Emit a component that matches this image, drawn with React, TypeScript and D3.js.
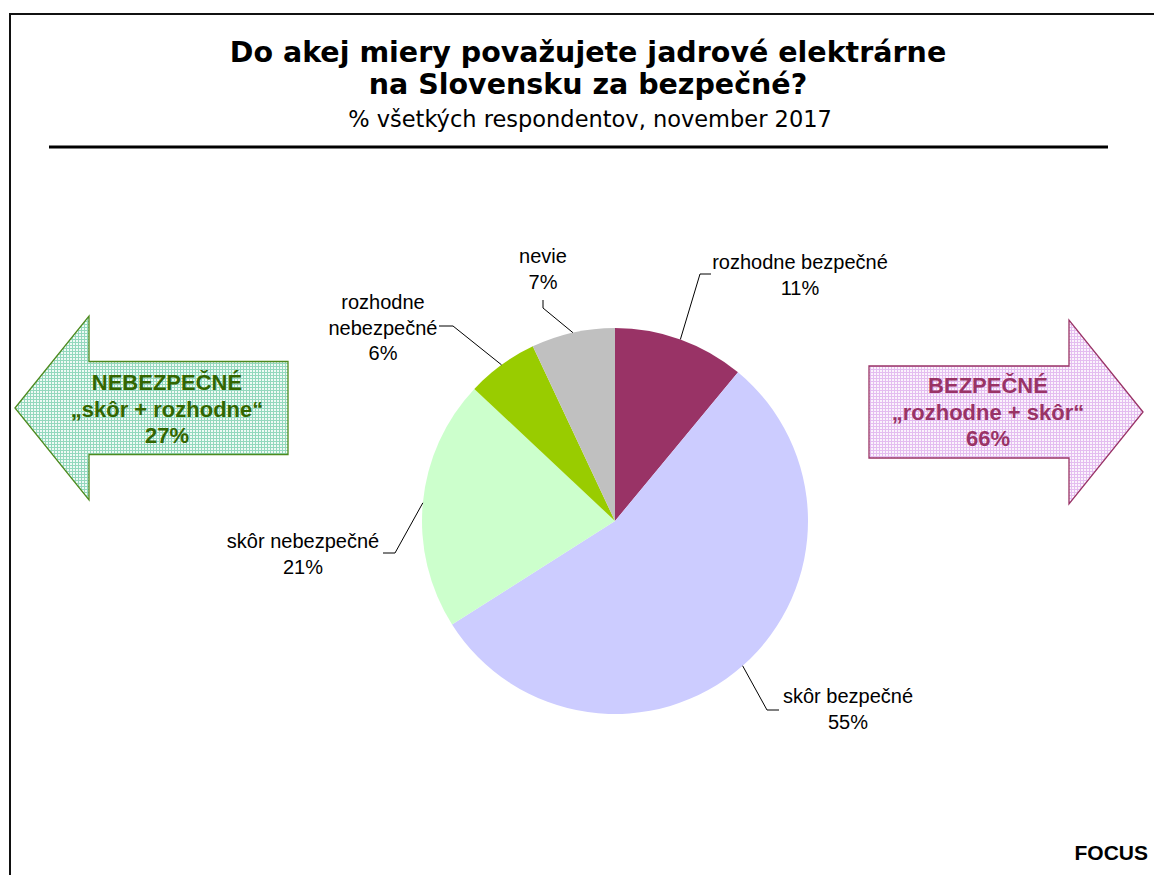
import { useRef, useEffect } from 'react';
import * as d3 from 'd3';

const categories = ['rozhodne bezpečné', 'skôr bezpečné', 'skôr nebezpečné', 'rozhodne nebezpečné', 'nevie'];
const shares = [11, 55, 21, 6, 7];
const colors = ['#993366', '#CCCCFF', '#CCFFCC', '#99CC00', '#C0C0C0'];
// label layout: text lines, text centre x, first baseline, leader elbow and end
const labelLines = [
  ['rozhodne bezpečné', '11%'],
  ['skôr bezpečné', '55%'],
  ['skôr nebezpečné', '21%'],
  ['rozhodne', 'nebezpečné', '6%'],
  ['nevie', '7%'],
];
const labelPos = [
  { x: 800, y: 269, elbow: [700, 274], end: [711, 274] },
  { x: 848, y: 703, elbow: [767, 710], end: [779, 710] },
  { x: 303, y: 548, elbow: [395, 553], end: [383, 553] },
  { x: 383, y: 309, elbow: [453, 326], end: [439, 326] },
  { x: 543, y: 263, elbow: [543, 308], end: [543, 300] },
];

const title = ['Do akej miery považujete jadrové elektrárne', 'na Slovensku za bezpečné?'];
const subtitle = '% všetkých respondentov, november 2017';
const leftArrowText = ['NEBEZPEČNÉ', '„skôr + rozhodne“', '27%'];
const rightArrowText = ['BEZPEČNÉ', '„rozhodne + skôr“', '66%'];

export default function App() {
  const ref = useRef<SVGSVGElement>(null);

  useEffect(() => {
    const svg = d3.select(ref.current);
    svg.selectAll('*').remove();

    const defs = svg.append('defs');
    const pat = (id: string, bg: string, line: string) => {
      const p = defs
        .append('pattern')
        .attr('id', id)
        .attr('width', 3)
        .attr('height', 3)
        .attr('patternUnits', 'userSpaceOnUse');
      p.append('rect').attr('width', 3).attr('height', 3).attr('fill', bg);
      p.append('rect').attr('width', 3).attr('height', 1).attr('fill', line);
      p.append('rect').attr('width', 1).attr('height', 3).attr('fill', line);
    };
    pat('gridGreen', '#effaf5', '#93d8bd');
    pat('gridPink', '#fbf3fc', '#e4bdf0');

    // frame
    svg
      .append('rect')
      .attr('x', 10)
      .attr('y', 14)
      .attr('width', 1200)
      .attr('height', 900)
      .attr('fill', 'white')
      .attr('stroke', '#111')
      .attr('stroke-width', 2);

    const t = svg
      .append('text')
      .attr('text-anchor', 'middle')
      .attr('font-family', 'DejaVu Sans')
      .attr('font-weight', 'bold')
      .attr('font-size', 28.5)
      .attr('fill', '#000');
    title.forEach((s, i) => t.append('tspan').attr('x', 588).attr('y', 62 + i * 32).text(s));
    svg
      .append('text')
      .attr('x', 590)
      .attr('y', 127)
      .attr('text-anchor', 'middle')
      .attr('font-family', 'DejaVu Sans')
      .attr('font-size', 22.5)
      .text(subtitle);
    svg
      .append('line')
      .attr('x1', 49)
      .attr('x2', 1108)
      .attr('y1', 147)
      .attr('y2', 147)
      .attr('stroke', '#000')
      .attr('stroke-width', 3);

    // arrows
    const arrow = (tipX: number, headX: number, bodyX: number, cy: number, headH: number, bodyH: number) =>
      [
        [tipX, cy],
        [headX, cy - headH / 2],
        [headX, cy - bodyH / 2],
        [bodyX, cy - bodyH / 2],
        [bodyX, cy + bodyH / 2],
        [headX, cy + bodyH / 2],
        [headX, cy + headH / 2],
      ] as [number, number][];
    const line = d3.line();
    svg
      .append('path')
      .attr('d', line(arrow(15, 89, 288, 408, 184, 93)) + 'Z')
      .attr('fill', 'url(#gridGreen)')
      .attr('stroke', '#4E8A1E')
      .attr('stroke-width', 1.3);
    svg
      .append('path')
      .attr('d', line(arrow(1143, 1069, 869, 412, 184, 92)) + 'Z')
      .attr('fill', 'url(#gridPink)')
      .attr('stroke', '#993366')
      .attr('stroke-width', 1.3);

    const arrowText = (lines: string[], cx: number, y0: number, color: string) => {
      const g = svg
        .append('text')
        .attr('text-anchor', 'middle')
        .attr('font-family', 'Liberation Sans, Arial')
        .attr('font-weight', 'bold')
        .attr('font-size', 22)
        .attr('fill', color);
      lines.forEach((s, i) => g.append('tspan').attr('x', cx).attr('y', y0 + i * 26.5).text(s));
    };
    arrowText(leftArrowText, 167, 390, '#336600');
    arrowText(rightArrowText, 988, 393, '#993366');

    // pie
    const cx = 615;
    const cy = 521;
    const r = 193;
    const pie = d3.pie<number>().sort(null).value((d) => d);
    const arcs = pie(shares);
    const arc = d3.arc<d3.PieArcDatum<number>>().innerRadius(0).outerRadius(r);
    const g = svg.append('g').attr('transform', `translate(${cx},${cy})`);
    g.selectAll('path.slice')
      .data(arcs)
      .enter()
      .append('path')
      .attr('class', 'slice')
      .attr('d', arc)
      .attr('fill', (_, i) => colors[i])
      .attr('stroke', 'none');

    arcs.forEach((a, i) => {
      const mid = (a.startAngle + a.endAngle) / 2;
      const sx = cx + Math.sin(mid) * r;
      const sy = cy - Math.cos(mid) * r;
      const p = labelPos[i];
      svg
        .append('polyline')
        .attr('points', `${sx},${sy} ${p.elbow[0]},${p.elbow[1]} ${p.end[0]},${p.end[1]}`)
        .attr('fill', 'none')
        .attr('stroke', '#000')
        .attr('stroke-width', 1);
      const tx = svg
        .append('text')
        .attr('text-anchor', 'middle')
        .attr('font-family', 'Liberation Sans, Arial')
        .attr('font-size', 20)
        .attr('fill', '#000')
        .attr('data-cat', categories[i]);
      labelLines[i].forEach((s, j) => tx.append('tspan').attr('x', p.x).attr('y', p.y + j * 25.5).text(s));
    });

    svg
      .append('text')
      .attr('x', 1148)
      .attr('y', 860)
      .attr('text-anchor', 'end')
      .attr('font-family', 'Liberation Sans, Arial')
      .attr('font-weight', 'bold')
      .attr('font-size', 21)
      .text('FOCUS');
  }, []);

  return (
    <svg
      ref={ref}
      width={1154}
      height={875}
      style={{ position: 'absolute', left: 0, top: 0, background: 'white' }}
    />
  );
}
